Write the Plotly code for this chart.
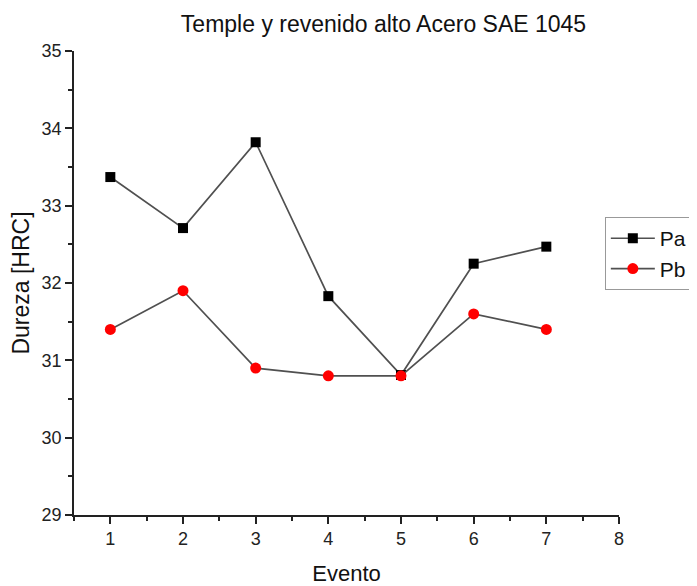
import plotly.graph_objects as go

eventos = [1, 2, 3, 4, 5, 6, 7]
pa = [33.37, 32.71, 33.82, 31.83, 30.81, 32.25, 32.47]
pb = [31.4, 31.9, 30.9, 30.8, 30.8, 31.6, 31.4]

FONT = "Liberation Sans, Arial, sans-serif"

fig = go.Figure()
fig.add_trace(go.Scatter(
    x=eventos, y=pa, name="Pa", mode="lines+markers",
    line=dict(color="#505050", width=1.7),
    marker=dict(symbol="square", size=10, color="black"),
))
fig.add_trace(go.Scatter(
    x=eventos, y=pb, name="Pb", mode="lines+markers",
    line=dict(color="#505050", width=1.7),
    marker=dict(symbol="circle", size=11, color="red"),
))

axis_common = dict(
    showgrid=False, zeroline=False, showline=True, linecolor="#222222", linewidth=1.5,
    ticks="outside", ticklen=7, tickwidth=1.5, tickcolor="#222222",
    tickfont=dict(family=FONT, size=18, color="#222222"),
    mirror=False,
)

fig.update_xaxes(
    range=[0.5, 8], tickmode="array", tickvals=[1, 2, 3, 4, 5, 6, 7, 8],
    minor=dict(ticks="outside", ticklen=4, tickwidth=1.5, tickcolor="#222222", dtick=0.5, tick0=0.5),
    title=dict(text="Evento", font=dict(family=FONT, size=22, color="#111111"), standoff=23),
    **axis_common,
)
fig.update_yaxes(
    range=[29, 35], tickmode="array", tickvals=[29, 30, 31, 32, 33, 34, 35],
    minor=dict(ticks="outside", ticklen=4, tickwidth=1.5, tickcolor="#222222", dtick=0.5, tick0=29),
    title=dict(text="Dureza [HRC]", font=dict(family=FONT, size=23, color="#111111"), standoff=8),
    **axis_common,
)

fig.update_layout(
    width=689, height=578,
    margin=dict(l=66, r=78, t=43, b=71, autoexpand=False),
    paper_bgcolor="white", plot_bgcolor="white",
    title=dict(text="Temple y revenido alto Acero SAE 1045",
               font=dict(family=FONT, size=23, color="#111111"),
               x=0.545, xanchor="center", xref="container",
               y=0.973, yanchor="middle", yref="container"),
    legend=dict(
        x=0.974, xanchor="left", y=0.642, yanchor="top",
        bgcolor="white", bordercolor="#999999", borderwidth=1,
        font=dict(family=FONT, size=21, color="#111111"),
        itemwidth=44, tracegroupgap=0,
    ),
    showlegend=True,
)

fig.write_html("out.html")
